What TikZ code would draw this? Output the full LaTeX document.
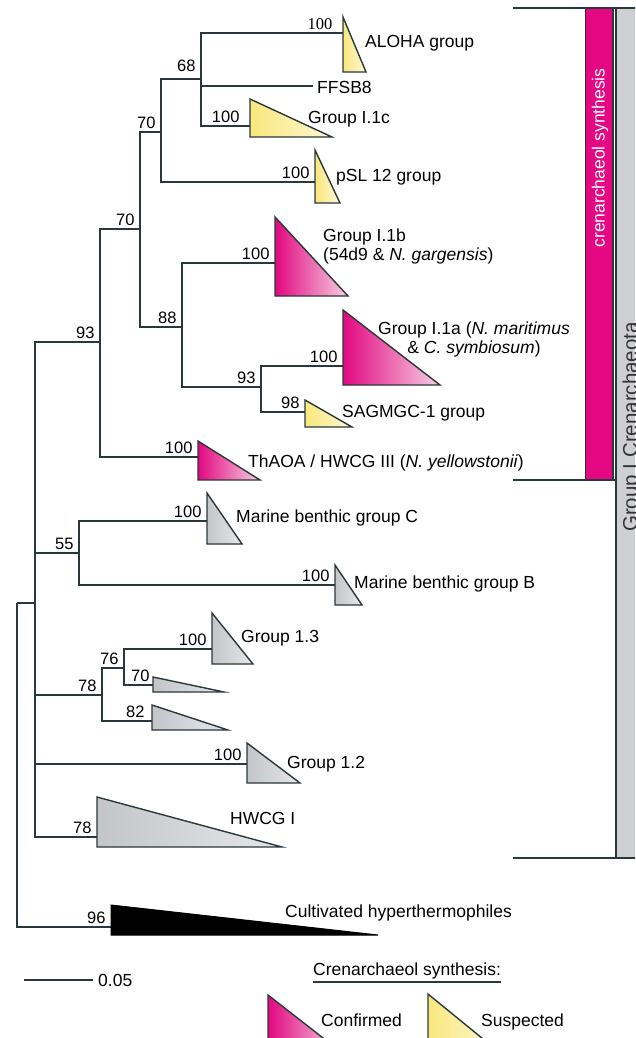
\documentclass[tikz,border=0pt]{standalone}
\usepackage{fontspec}
\setmainfont{Liberation Sans}
\newfontfamily\serifnum{Liberation Serif}
\usepackage{tikz}
\usetikzlibrary{positioning}
\definecolor{crenMag}{RGB}{226,8,128}
\definecolor{crenPink}{RGB}{246,208,227}
\definecolor{crenYel}{RGB}{249,231,125}
\definecolor{crenYelL}{RGB}{254,248,212}
\definecolor{cladeGray}{RGB}{196,197,201}
\definecolor{cladeGrayL}{RGB}{230,231,233}
\definecolor{treeLine}{RGB}{42,56,60}
\definecolor{barGray}{RGB}{206,207,210}
\definecolor{barMag}{RGB}{230,8,130}
\newcommand{\cladetri}[5]{\draw[#1] (#2,#3) -- (#2,#4) -- (#5,#4) -- cycle;}

\begin{document}
\begin{tikzpicture}[x=1pt, y=-1pt, line join=miter,
    branch/.style={draw=treeLine, line width=2.1pt},
    bs/.style={anchor=south east, inner xsep=4.5pt, inner ysep=2.5pt, font=\fontsize{16.5}{19}\selectfont},
    lbl/.style={anchor=base west, inner sep=0pt, font=\fontsize{17.5}{20}\selectfont},
    conf/.style={draw=treeLine, line width=1.4pt, left color=crenMag, right color=crenPink},
    susp/.style={draw=treeLine, line width=1.4pt, left color=crenYel, right color=crenYelL},
    other/.style={draw=treeLine, line width=1.4pt, left color=cladeGray, right color=cladeGrayL},
    hyper/.style={draw=black, fill=black, line width=1pt}]
  \useasboundingbox (0,0) rectangle (635,1038);
  \clip (0,0) rectangle (635,1038);
  \fill[white] (0,0) rectangle (635,1038);

  % internal nodes of the tree
  \coordinate (root) at (17,603);
  \coordinate (ingrp) at (35,603);
  \coordinate (n93) at (100,342);
  \coordinate (n70b) at (140,229);
  \coordinate (n70a) at (161,132);
  \coordinate (n68) at (201,79);
  \coordinate (n88) at (182,327);
  \coordinate (n93b) at (261,387);
  \coordinate (n55) at (79,553);
  \coordinate (n78) at (102,695);
  \coordinate (n76) at (124,668);
  % where the branches meet the clades
  \coordinate (aloha) at (343,33);
  \coordinate (ffsb) at (313,86);
  \coordinate (ic) at (250,126);
  \coordinate (psl) at (315,182);
  \coordinate (ib) at (275,263);
  \coordinate (ia) at (343,366);
  \coordinate (sag) at (305,412);
  \coordinate (thaoa) at (198,457);
  \coordinate (mbgc) at (207,521);
  \coordinate (mbgb) at (335,585);
  \coordinate (g13) at (212,649);
  \coordinate (c70) at (153,685);
  \coordinate (c82) at (152,721);
  \coordinate (g12) at (247,764);
  \coordinate (hwcg) at (97,837);
  \coordinate (cult) at (111,927);

  \path[branch]
    (root) -- (ingrp)
    (root) |- (cult) node[bs] {96}
    (ingrp) |- (n93) node[bs] {93}
    (ingrp) |- (n55) node[bs] {55}
    (ingrp) |- (n78) node[bs] {78}
    (ingrp) |- (g12) node[bs] {100}
    (ingrp) |- (hwcg) node[bs] {78}
    (n93) |- (n70b) node[bs] {70}
    (n93) |- (thaoa) node[bs] {100}
    (n70b) |- (n70a) node[bs] {70}
    (n70b) |- (n88) node[bs] {88}
    (n70a) |- (n68) node[bs, yshift=4pt] {68}
    (n70a) |- (psl) node[bs] {100}
    (n68) |- (aloha) node[bs, xshift=-5pt, font=\serifnum\fontsize{16.5}{19}\selectfont] {100}
    (n68) |- (ffsb)
    (n68) |- (ic) node[bs, xshift=-5pt] {100}
    (n88) |- (ib) node[bs] {100}
    (n88) |- (n93b) node[bs] {93}
    (n93b) |- (ia) node[bs] {100}
    (n93b) |- (sag) node[bs] {98}
    (n55) |- (mbgc) node[bs] {100}
    (n55) |- (mbgb) node[bs] {100}
    (n78) |- (n76) node[bs] {76}
    (n78) |- (c82) node[bs, xshift=-2pt] {82}
    (n76) |- (g13) node[bs] {100}
    (n76) |- (c70) node[bs, xshift=2pt] {70};

  % collapsed clades
  \cladetri{susp}{343}{17}{72}{366}
  \cladetri{susp}{250}{99}{137}{332}
  \cladetri{susp}{315}{150}{203}{340}
  \cladetri{conf}{275}{217}{296}{348}
  \cladetri{conf}{343}{310}{385}{440}
  \cladetri{susp}{305}{400}{427}{352}
  \cladetri{conf}{198}{441}{480}{260}
  \cladetri{other}{207}{493}{544}{242}
  \cladetri{other}{335}{565}{605}{362}
  \cladetri{other}{212}{613}{664}{253}
  \cladetri{other}{153}{677}{692}{224}
  \cladetri{other}{152}{705}{730}{228}
  \cladetri{other}{247}{743}{783}{300}
  \cladetri{other}{97}{797}{847}{282}
  \cladetri{hyper}{111}{905}{935}{378}

  \node[lbl] (tAloha) at (365,48) {ALOHA group};
  \node[lbl] (tFfsb) at (317,94) {FFSB8};
  \node[lbl] (tIc) at (308,124) {Group I.1c};
  \node[lbl] (tPsl) at (336,181) {pSL 12 group};
  \node[lbl] (tIb) at (323,241) {Group I.1b};
  \node[lbl] (tIbx) at (323,260) {(54d9 \& \textit{N. gargensis})};
  \node[lbl, anchor=base] (tIa) at (474,334) {Group I.1a (\textit{N. maritimus}};
  \node[lbl, anchor=base] (tIax) at (474,353) {\& \textit{C. symbiosum})};
  \node[lbl] (tSag) at (342,417) {SAGMGC-1 group};
  \node[lbl] (tThaoa) at (248,467) {ThAOA / HWCG III (\textit{N. yellowstonii})};
  \node[lbl] (tMbgc) at (236,522) {Marine benthic group C};
  \node[lbl] (tMbgb) at (354,588) {Marine benthic group B};
  \node[lbl] (tG13) at (241,642) {Group 1.3};
  \node[lbl] (tG12) at (287,768) {Group 1.2};
  \node[lbl] (tHwcg) at (230,824) {HWCG I};
  \node[lbl] (tCult) at (285,917) {Cultivated hyperthermophiles};

  % side bars
  \fill[barGray] (616,9) rectangle (640,858);
  \fill[barMag] (585,9) rectangle (613,480);
  \draw[branch, line width=0.6pt] (585,9) -- (585,480);
  \draw[branch, line width=1.2pt] (613,9) -- (613,480);
  \draw[branch] (616,9) -- (616,858);
  \draw[branch] (513,8) -- (640,8);
  \draw[branch] (513,480) -- (615,480);
  \draw[branch] (513,858) -- (640,858);
  \node[rotate=90, text=white, inner sep=0pt, font=\fontsize{17.5}{20}\selectfont] (tBarMag) at (600,158) {crenarchaeol synthesis};
  \node[rotate=90, text=black!80, inner sep=0pt, font=\fontsize{20.5}{24}\selectfont] (tBarGray) at (632,427) {Group I Crenarchaeota};

  % scale bar
  \coordinate (sbL) at (24,980);
  \coordinate (sbR) at (93,980);
  \draw[branch, line width=1.5pt] (sbL) -- (sbR);
  \node[lbl] (tScale) at (98,986) {0.05};

  % legend
  \node[lbl] (tLeg) at (313,975) {Crenarchaeol synthesis:};
  \draw[branch, line width=1.5pt] ([yshift=-7pt]tLeg.base west) -- ([yshift=-7pt]tLeg.base east);
  \cladetri{conf}{268}{995}{1052}{341}
  \cladetri{susp}{428}{994}{1052}{499}
  \node[lbl] (tConf) at (321,1026) {Confirmed};
  \node[lbl] (tSusp) at (481,1026) {Suspected};
\end{tikzpicture}
\end{document}
